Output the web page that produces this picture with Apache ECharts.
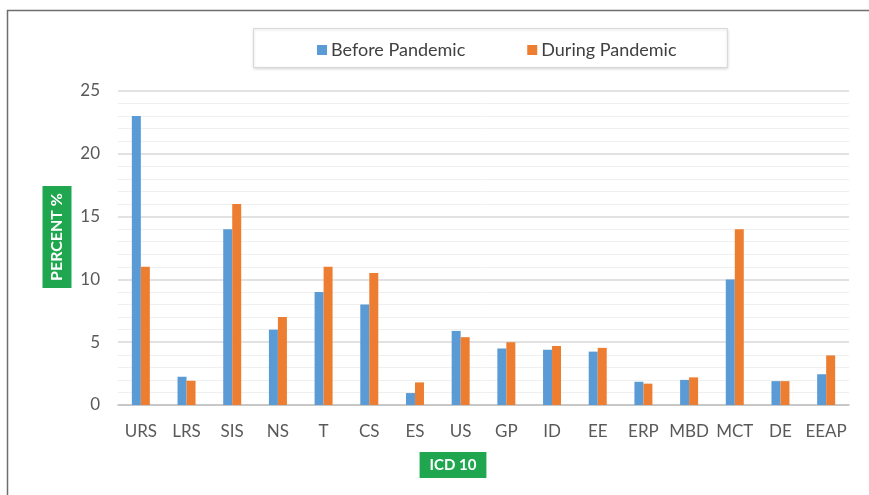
<!DOCTYPE html>
<html>
<head>
<meta charset="utf-8">
<script src="https://cdn.jsdelivr.net/npm/echarts@6/dist/echarts.min.js"></script>
<style>html,body{margin:0;padding:0;background:#fff;}#chart{width:869px;height:495px;}</style>
</head>
<body>
<div id="chart"></div>
<script>
const categories = ['URS','LRS','SIS','NS','T','CS','ES','US','GP','ID','EE','ERP','MBD','MCT','DE','EEAP'];
const beforePandemic = [23, 2.25, 14, 6, 9, 8, 0.95, 5.9, 4.5, 4.4, 4.25, 1.85, 2.0, 10, 1.9, 2.45];
const duringPandemic = [11, 1.93, 16, 7, 11, 10.5, 1.8, 5.4, 5.0, 4.7, 4.55, 1.7, 2.2, 14, 1.9, 3.95];
const seriesNames = ['Before Pandemic', 'During Pandemic'];
const yAxisTitle = 'PERCENT %';
const xAxisTitle = 'ICD 10';

const FONT = 'Lato, "Open Sans", sans-serif';
const chart = echarts.init(document.getElementById('chart'), null, {renderer: 'canvas'});
chart.setOption({
  backgroundColor: '#ffffff',
  animation: false,
  color: ['#5B9BD5', '#ED7D31'],
  graphic: [
    {type: 'rect', left: 5, top: 8, shape: {width: 1000, height: 600}, style: {fill: 'none', stroke: '#6e6e6e', lineWidth: 1.5}, z: -10},
    {type: 'rect', left: 253, top: 28, shape: {width: 474, height: 39}, style: {fill: '#ffffff', stroke: '#d9d9d9', lineWidth: 1, shadowBlur: 3, shadowColor: 'rgba(0,0,0,0.15)', shadowOffsetY: 1}, z: -5},
    {type: 'text', x: 57, y: 237, rotation: Math.PI / 2, z: 10,
      style: {text: yAxisTitle, fill: '#ffffff', font: 'bold 16px ' + FONT, align: 'center', verticalAlign: 'middle', backgroundColor: '#1fa64f', padding: [7, 7, 6, 7]}},
    {type: 'text', x: 453, y: 465, z: 10,
      style: {text: xAxisTitle, fill: '#ffffff', font: 'bold 15px ' + FONT, align: 'center', verticalAlign: 'middle', backgroundColor: '#1fa64f', padding: [6, 10, 5, 10]}}
  ],
  legend: {
    left: 312, top: 36,
    itemWidth: 10, itemHeight: 10, itemGap: 62,
    icon: 'rect',
    textStyle: {fontFamily: FONT, fontSize: 18, color: '#404040', padding: [0,0,0,-1]},
    data: seriesNames
  },
  grid: {left: 118, right: 20, top: 91, bottom: 90, containLabel: false},
  xAxis: {
    type: 'category',
    data: categories,
    axisLine: {lineStyle: {color: '#bfbfbf', width: 1.5}},
    axisTick: {show: false},
    axisLabel: {interval: 0, fontFamily: FONT, fontSize: 17, color: '#595959', margin: 18}
  },
  yAxis: {
    type: 'value',
    min: 0, max: 25, interval: 5,
    axisLine: {show: false},
    axisTick: {show: false},
    axisLabel: {fontFamily: FONT, fontSize: 17, color: '#595959', margin: 18},
    splitLine: {lineStyle: {color: '#d9d9d9', width: 1.5}},
    minorTick: {show: false, splitNumber: 5},
    minorSplitLine: {show: true, lineStyle: {color: '#efefef', width: 1}}
  },
  series: [
    {name: seriesNames[0], type: 'bar', data: beforePandemic, barWidth: 9, barGap: '0%'},
    {name: seriesNames[1], type: 'bar', data: duringPandemic, barWidth: 9, barGap: '0%'}
  ]
});
</script>
</body>
</html>
